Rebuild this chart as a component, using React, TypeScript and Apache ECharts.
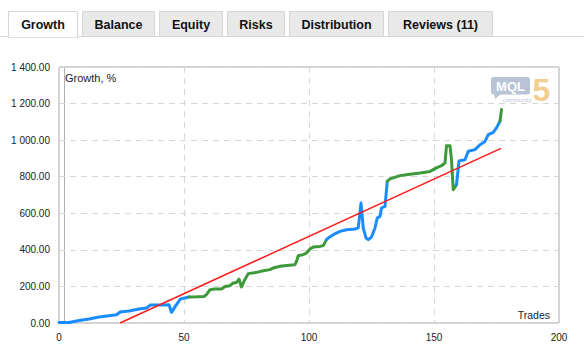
import React, { useEffect, useRef } from "react";
import * as echarts from "echarts";

const tabNames = ["Growth", "Balance", "Equity", "Risks", "Distribution", "Reviews (11)"];
const xTicks = [0, 50, 100, 150, 200];
const yTicks = [0, 200, 400, 600, 800, 1000, 1200, 1400];

const trades = [
  0, 4, 8, 12, 16, 20, 23, 24.5, 28, 32, 35, 36.5, 40, 44, 45, 46.5, 48.5, 52, 55, 58,
  59, 60.4, 62.4, 65, 66.4, 68.4, 69.7, 71, 72, 73, 74, 75.7, 79, 81.7, 84.4, 85.7, 88.4, 91, 94.4, 95,
  95.7, 97.7, 99, 100.4, 101.7, 104.4, 105.7, 107, 107.7, 109.7, 112.4, 115, 118.4, 119.7, 120.8, 121.7, 122.8, 123.7, 125, 126.4,
  127.3, 128.4, 129, 130.4, 131.3, 132.4, 136.4, 140.4, 144.4, 148.4, 151, 153, 154.4, 155, 156.4, 157, 157.7, 159, 160, 162.4,
  163.7, 166.4, 168.4, 170.4, 171.7, 173.7, 175, 176.4, 177,
];
const growth = [
  3, 3, 14, 22, 33, 40, 45, 60, 66, 77, 82, 98, 98, 100, 58, 91, 131, 142, 143, 145,
  155, 182, 186, 186, 200, 204, 219, 222, 240, 197, 228, 270, 277, 286, 292, 301, 310, 315, 319, 337,
  368, 374, 383, 405, 416, 419, 423, 456, 465, 483, 501, 510, 514, 520, 656, 520, 465, 456, 470, 520,
  574, 583, 629, 638, 775, 788, 806, 813, 820, 829, 848, 860, 875, 970, 970, 893, 729, 756, 886, 893,
  939, 948, 975, 993, 1030, 1043, 1067, 1103, 1167,
];
// trade numbers at which the line colour switches (blue -> green -> blue ...)
const segmentEdges = [53, 107.5, 132, 160, 176.5];
const trendX = [24.4, 176.8];
const trendY = [0, 955];

const BLUE = "#1a8cff";
const GREEN = "#3d9a3a";

function fmt(v: number) {
  const s = v.toFixed(2);
  const [i, d] = s.split(".");
  return i.replace(/\B(?=(\d{3})+(?!\d))/g, " ") + "." + d;
}

export default function App() {
  const ref = useRef<HTMLDivElement>(null);
  useEffect(() => {
    if (!ref.current) return;
    const chart = echarts.init(ref.current, null, { renderer: "svg" });

    const tabX = [
      [8, 77],
      [82, 154],
      [159, 222],
      [227, 284],
      [289, 383],
      [388, 492],
    ];
    const tabGraphics: any[] = [
      { type: "line", shape: { x1: 0, y1: 36.5, x2: 584, y2: 36.5 }, style: { stroke: "#d6d6d6", lineWidth: 1 } },
    ];
    tabNames.forEach((name, i) => {
      const [a, b] = tabX[i];
      const active = i === 0;
      tabGraphics.push({
        type: "rect",
        shape: { x: a + 0.5, y: 11.5, width: b - a, height: active ? 26 : 25 },
        style: { fill: active ? "#ffffff" : "#e9e9e9", stroke: "#d6d6d6", lineWidth: 1 },
      });
      if (active) {
        tabGraphics.push({
          type: "line",
          shape: { x1: a + 1, y1: 36.5, x2: b, y2: 36.5 },
          style: { stroke: "#ffffff", lineWidth: 1.5 },
        });
      }
      tabGraphics.push({
        type: "text",
        style: {
          text: name,
          x: (a + b) / 2 + 0.5,
          y: 25,
          align: "center",
          verticalAlign: "middle",
          fill: "#111111",
          font: "bold 12.5px 'Liberation Sans', Arial, sans-serif",
        },
      });
    });

    // split the growth line into coloured segments that share their end points
    const colors = [BLUE, GREEN, BLUE, GREEN, BLUE, GREEN];
    const segments: number[][][] = [[]];
    let seg = 0;
    trades.forEach((t, i) => {
      while (seg < segmentEdges.length && t >= segmentEdges[seg]) {
        const prev = segments[seg];
        seg++;
        segments[seg] = prev.length ? [prev[prev.length - 1]] : [];
      }
      segments[seg].push([t, growth[i]]);
    });
    const lineSeries = segments.map((d, i) => ({
      type: "line",
      data: d,
      showSymbol: false,
      symbol: "none",
      lineStyle: { width: 3, color: colors[i], join: "round", cap: "round" },
      itemStyle: { color: colors[i] },
      z: 3,
    }));
    const trendData = trendX.map((t, i) => [t, trendY[i]]);

    chart.setOption({
      animation: false,
      backgroundColor: "#ffffff",
      grid: {
        left: 59,
        top: 67,
        right: 25,
        bottom: 30,
        show: true,
        borderColor: "#a8a8a8",
        borderWidth: 1,
        backgroundColor: "transparent",
      },
      xAxis: {
        type: "value",
        min: xTicks[0],
        max: xTicks[xTicks.length - 1],
        interval: 50,
        axisLine: { show: false },
        axisTick: { show: false },
        axisLabel: {
          color: "#222",
          fontFamily: "'Liberation Sans', Arial, sans-serif",
          fontSize: 10,
          margin: 9,
        },
        splitLine: { show: true, lineStyle: { color: "#d6d6d6", type: [6, 5], width: 1 } },
      },
      yAxis: {
        type: "value",
        min: yTicks[0],
        max: yTicks[yTicks.length - 1],
        interval: 200,
        axisLine: { show: false },
        axisTick: { show: false },
        axisLabel: {
          color: "#222",
          fontFamily: "'Liberation Sans', Arial, sans-serif",
          fontSize: 10,
          margin: 9,
          formatter: (v: number) => fmt(v),
        },
        splitLine: { show: true, lineStyle: { color: "#d6d6d6", type: [6, 5], width: 1 } },
      },
      series: [
        ...lineSeries,
        {
          type: "line",
          data: trendData,
          showSymbol: false,
          symbol: "none",
          lineStyle: { width: 1.5, color: "#ff1a1a" },
          z: 4,
        },
      ],
      graphic: [
        ...tabGraphics,
        { type: "line", shape: { x1: 64.5, y1: 67, x2: 64.5, y2: 323 }, style: { stroke: "#b0b0b0", lineWidth: 1 } },
        {
          type: "text",
          style: {
            text: "Growth, %",
            x: 65,
            y: 78,
            verticalAlign: "middle",
            fill: "#222",
            font: "11px 'Liberation Sans', Arial, sans-serif",
          },
        },
        {
          type: "text",
          style: {
            text: "Trades",
            x: 550,
            y: 315,
            align: "right",
            verticalAlign: "middle",
            fill: "#222",
            font: "10.5px 'Liberation Sans', Arial, sans-serif",
          },
        },
        {
          type: "group",
          children: [
            {
              type: "rect",
              shape: { x: 491, y: 77, width: 39, height: 17.5, r: 3 },
              style: { fill: "#b8c3d6" },
            },
            {
              type: "polygon",
              shape: { points: [[494, 93], [502, 93], [495, 99]] },
              style: { fill: "#b8c3d6" },
            },
            {
              type: "text",
              style: {
                text: "MQL",
                x: 510.5,
                y: 86,
                align: "center",
                verticalAlign: "middle",
                fill: "#ffffff",
                font: "bold 13px 'Liberation Sans', Arial, sans-serif",
              },
            },
            {
              type: "text",
              style: {
                text: "community",
                x: 517,
                y: 99.5,
                align: "center",
                verticalAlign: "middle",
                fill: "#b8c3d6",
                font: "6px 'Liberation Sans', Arial, sans-serif",
              },
            },
            {
              type: "text",
              style: {
                text: "5",
                x: 541.5,
                y: 90,
                align: "center",
                verticalAlign: "middle",
                fill: "#f2cf90",
                font: "bold 32px 'Liberation Sans', Arial, sans-serif",
              },
            },
          ],
        },
      ],
    });
    return () => chart.dispose();
  }, []);

  return (
    <div
      ref={ref}
      style={{ position: "absolute", left: 0, top: 0, width: 584, height: 353, background: "#fff" }}
    />
  );
}
